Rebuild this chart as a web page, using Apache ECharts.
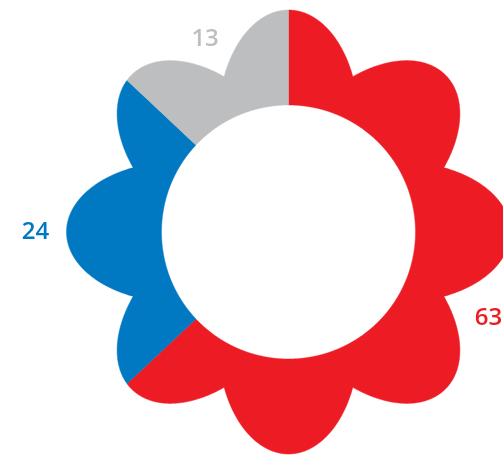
<!DOCTYPE html>
<html>
<head>
<meta charset="utf-8">
<script src="https://cdn.jsdelivr.net/npm/echarts@6/dist/echarts.min.js"></script>
<style>html,body{margin:0;padding:0;background:#fff;}#c{width:503px;height:455px;}</style>
</head>
<body>
<div id="c"></div>
<script>
// ---- data ----
var categories = ['Red', 'Blue', 'Grey'];
var values = [63, 24, 13];
var labels = ['63', '24', '13'];

// ---- styling ----
var colors = ['#ED1C24', '#0079C2', '#BCBEC0'];
var labelRadius = [218, 253, 210];
var PETALS = 8, TIP = 222, INNER = 127;
var ELL_B = 110, ELL_A = 70, ELL_C = TIP - ELL_B;

function flowerR(pct) {
  var deg = pct * 3.6;
  var step = 360 / PETALS;
  var phi = (deg - step * Math.round(deg / step)) * Math.PI / 180;
  var cs = Math.cos(phi), sn = Math.sin(phi);
  var A = (cs / ELL_B) * (cs / ELL_B) + (sn / ELL_A) * (sn / ELL_A);
  var B = -2 * ELL_C * cs / (ELL_B * ELL_B);
  var C = ELL_C * ELL_C / (ELL_B * ELL_B) - 1;
  var disc = Math.max(0, B * B - 4 * A * C);
  return (-B + Math.sqrt(disc)) / (2 * A);
}

var total = values.reduce(function (a, b) { return a + b; }, 0);
var segs = [], acc = 0;
values.forEach(function (v, i) {
  var s = acc / total * 100, e = (acc + v) / total * 100;
  segs.push([s, e, i]);
  acc += v;
});

var chart = echarts.init(document.getElementById('c'), null, {renderer: 'canvas'});
chart.setOption({
  animation: false,
  polar: {center: [288.5, 232], radius: TIP},
  angleAxis: {type: 'value', min: 0, max: 100, startAngle: 90, clockwise: true,
    axisLine: {show: false}, axisTick: {show: false}, axisLabel: {show: false}, splitLine: {show: false}},
  radiusAxis: {type: 'value', min: 0, max: TIP,
    axisLine: {show: false}, axisTick: {show: false}, axisLabel: {show: false}, splitLine: {show: false}},
  series: [{
    type: 'custom',
    coordinateSystem: 'polar',
    data: segs,
    renderItem: function (params, api) {
      var s = api.value(0), e = api.value(1), idx = api.value(2);
      var pts = [];
      var n = Math.max(2, Math.ceil((e - s) / 0.05));
      for (var k = 0; k <= n; k++) {
        var a = s + (e - s) * k / n;
        pts.push(api.coord([flowerR(a), a]));
      }
      for (var k2 = n; k2 >= 0; k2--) {
        var a2 = s + (e - s) * k2 / n;
        pts.push(api.coord([INNER, a2]));
      }
      var mid = (s + e) / 2;
      var lp = api.coord([labelRadius[idx], mid]);
      return {
        type: 'group',
        children: [{
          type: 'polygon',
          shape: {points: pts},
          style: {fill: colors[idx], stroke: colors[idx], lineWidth: 0.5}
        }, {
          type: 'text',
          x: lp[0], y: lp[1],
          style: {text: labels[idx], fill: colors[idx], font: '600 24px "Open Sans"',
            align: 'center', verticalAlign: 'middle'}
        }]
      };
    }
  }]
});
</script>
</body>
</html>
